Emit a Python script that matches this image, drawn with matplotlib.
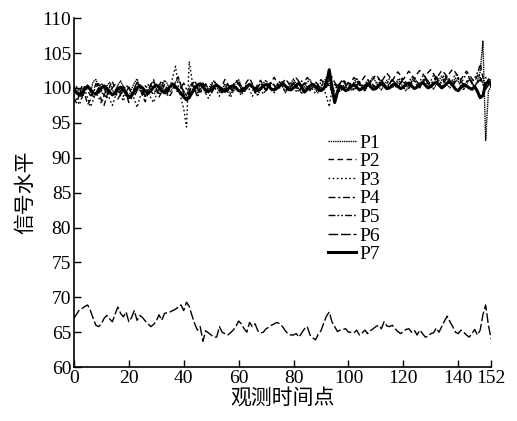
import numpy as np
import matplotlib
matplotlib.use("Agg")
import matplotlib.pyplot as plt

plt.rcParams['font.family'] = ['Liberation Serif', 'Noto Sans CJK SC']

p1 = [99.5, 100.2, 99.1, 98.6, 99.8, 100.5, 99.3, 100.9, 101.2, 100.1, 99.4, 98.9, 100.3, 100.8, 99.7, 99.0, 100.4, 101.0, 100.2, 99.6,
      98.8, 99.9, 100.7, 101.3, 100.0, 99.2, 98.7, 99.6, 100.5, 100.9, 99.8, 99.1, 100.2, 101.1, 100.6, 99.5, 99.9, 100.8, 101.4, 100.3,
      99.6, 98.9, 100.1, 100.7, 99.8, 99.3, 100.4, 100.0, 99.2, 99.7, 100.6, 101.0, 100.2, 99.4, 99.9, 100.5, 99.7, 99.1, 100.0, 100.8,
      101.2, 100.3, 99.5, 99.9, 100.6, 100.1, 99.4, 98.9, 99.8, 100.7, 101.1, 100.4, 99.6, 99.9, 100.5, 100.9, 100.2, 99.3, 99.8, 100.6,
      101.3, 100.5, 99.8, 99.2, 100.1, 100.8, 101.2, 100.4, 99.7, 99.3, 100.2, 100.9, 101.5, 100.6, 99.4, 98.6, 99.8, 100.7, 101.0, 100.3,
      99.6, 100.1, 100.8, 101.4, 100.7, 99.9, 99.5, 100.3, 101.0, 101.6, 100.8, 100.2, 99.7, 100.4, 101.1, 100.6, 100.0, 100.5, 101.2, 100.7,
      100.1, 99.6, 100.3, 101.0, 101.5, 100.8, 100.2, 100.6, 101.3, 100.9, 100.3, 99.8, 100.5, 101.1, 101.7, 100.9, 100.4, 100.0, 100.8, 101.4,
      100.9, 100.2, 99.7, 100.5, 101.2, 100.6, 100.1, 101.0, 102.3, 106.7, 92.5, 99.5, 100.3]
p2 = [98.5, 97.8, 99.2, 100.4, 99.0, 97.6, 98.3, 99.5, 100.6, 99.8, 98.2, 97.5, 98.9, 100.2, 101.0, 99.6, 98.4, 99.1, 100.3, 99.2,
      97.9, 98.6, 99.9, 100.8, 100.1, 98.8, 98.0, 99.3, 100.5, 101.2, 100.0, 98.7, 99.4, 100.6, 99.8, 98.9, 99.6, 100.9, 101.6, 100.4,
      99.1, 98.2, 99.5, 100.6, 99.7, 98.8, 99.9, 100.7, 100.0, 99.3, 100.2, 101.0, 100.5, 99.6, 100.3, 101.2, 100.6, 99.8, 100.4, 101.1,
      100.5, 99.7, 100.2, 100.9, 101.4, 100.6, 99.9, 100.5, 101.1, 100.3, 99.6, 100.4, 101.0, 101.5, 100.7, 100.0, 100.6, 101.3, 100.8, 100.1,
      100.7, 101.4, 100.9, 100.2, 100.8, 101.5, 101.0, 100.3, 99.8, 100.6, 101.2, 100.7, 100.1, 100.9, 101.6, 100.8, 100.2, 100.7, 101.3, 100.6,
      100.0, 100.8, 101.5, 101.0, 100.4, 101.1, 101.7, 101.2, 100.6, 101.3, 101.9, 101.4, 100.8, 101.5, 102.1, 101.6, 101.0, 101.7, 102.3, 101.8,
      101.2, 101.8, 102.4, 101.9, 101.3, 102.0, 102.5, 102.1, 101.5, 102.2, 102.6, 102.0, 101.4, 101.9, 102.5, 102.1, 101.6, 102.2, 102.7, 102.2,
      101.7, 101.2, 101.8, 102.4, 101.9, 101.3, 100.9, 101.8, 103.5, 101.5, 100.2, 101.3, 101.0]
p3 = [99.0, 98.3, 97.6, 98.8, 99.7, 98.5, 97.3, 98.2, 99.4, 98.6, 97.8, 98.9, 99.8, 98.4, 97.5, 98.7, 99.6, 98.9, 98.1, 99.3,
      100.1, 99.2, 98.4, 97.2, 98.6, 99.5, 100.3, 99.4, 98.6, 97.9, 99.0, 99.9, 100.6, 99.5, 98.8, 100.2, 101.5, 103.1, 100.4, 98.5,
      97.0, 94.4, 103.8, 101.2, 99.6, 98.7, 99.5, 100.4, 99.2, 98.5, 99.3, 100.2, 99.6, 98.8, 99.7, 100.5, 99.4, 98.6, 99.5, 100.3,
      99.5, 98.9, 99.8, 100.6, 99.7, 98.8, 99.6, 100.4, 99.9, 99.1, 99.8, 100.7, 100.1, 99.3, 100.0, 100.8, 100.2, 99.4, 100.1, 100.9,
      100.3, 99.5, 100.2, 101.0, 100.4, 99.6, 100.3, 99.8, 99.2, 100.1, 100.8, 99.9, 98.8, 97.3, 99.6, 100.5, 100.0, 99.4, 100.2, 101.0,
      100.4, 99.7, 100.3, 101.1, 100.5, 99.8, 100.4, 101.2, 100.6, 99.9, 100.5, 101.3, 100.7, 100.0, 100.6, 101.4, 100.8, 100.1, 100.7, 101.5,
      100.9, 100.2, 100.8, 101.6, 101.0, 100.3, 100.9, 101.7, 101.1, 100.4, 101.0, 101.8, 101.2, 100.5, 101.1, 101.9, 101.3, 100.6, 101.2, 102.0,
      101.4, 100.7, 101.3, 102.1, 101.5, 100.8, 101.4, 102.2, 101.6, 100.9, 101.5, 100.8, 101.2]
p4 = [99.8, 99.2, 98.7, 99.5, 100.3, 99.6, 98.9, 99.4, 100.1, 100.6, 99.7, 99.0, 98.6, 99.3, 100.0, 100.5, 99.8, 99.1, 99.7, 100.4,
      100.0, 99.3, 98.8, 99.6, 100.2, 99.5, 98.9, 99.7, 100.4, 99.9, 99.2, 99.8, 100.5, 100.1, 99.4, 99.9, 100.6, 100.2, 99.5, 100.0,
      100.7, 99.8, 98.9, 99.6, 100.3, 99.9, 99.3, 99.8, 100.4, 100.0, 99.4, 99.9, 100.5, 100.1, 99.5, 100.0, 100.6, 100.2, 99.6, 100.1,
      100.5, 99.9, 99.4, 100.0, 100.6, 100.2, 99.6, 100.1, 100.7, 100.3, 99.7, 100.2, 100.8, 100.4, 99.8, 100.3, 100.9, 100.4, 99.8, 100.2,
      100.7, 100.1, 99.6, 100.2, 100.8, 100.3, 99.7, 100.3, 100.9, 100.4, 99.8, 100.4, 101.1, 100.2, 99.5, 100.1, 100.7, 100.2, 99.7, 100.3,
      100.8, 100.3, 99.8, 100.4, 100.9, 100.4, 99.9, 100.5, 101.0, 100.5, 100.0, 100.6, 101.1, 100.6, 100.1, 100.7, 101.2, 100.7, 100.2, 100.8,
      101.3, 100.8, 100.3, 100.9, 101.4, 100.9, 100.4, 101.0, 101.5, 101.0, 100.5, 101.1, 101.6, 101.1, 100.6, 101.2, 101.7, 101.1, 100.5, 101.0,
      101.5, 101.0, 100.4, 100.9, 101.4, 100.8, 100.2, 100.7, 101.2, 100.5, 99.8, 100.4, 100.9]
p5 = [100.2, 99.4, 99.9, 98.8, 99.5, 100.4, 99.7, 98.6, 99.3, 100.0, 100.7, 99.9, 99.2, 99.8, 98.9, 99.6, 100.3, 99.5, 98.8, 99.4,
      100.1, 99.3, 100.0, 100.8, 99.7, 99.1, 99.8, 100.5, 99.6, 99.0, 99.7, 100.4, 101.0, 99.9, 99.2, 100.0, 100.7, 99.8, 99.3, 100.1,
      99.5, 98.6, 99.2, 100.4, 101.0, 100.2, 99.4, 100.0, 100.6, 99.7, 99.2, 99.9, 100.6, 100.0, 99.3, 99.8, 100.5, 99.9, 99.4, 100.2,
      100.8, 100.1, 99.5, 99.9, 100.6, 99.8, 99.3, 100.0, 100.7, 100.2, 99.6, 100.1, 100.8, 100.3, 99.7, 100.2, 100.9, 100.0, 99.5, 100.1,
      100.6, 99.9, 99.4, 100.0, 100.7, 100.1, 99.6, 100.2, 100.8, 100.3, 99.5, 99.9, 101.0, 101.8, 99.2, 99.7, 100.4, 99.9, 99.5, 100.2,
      100.7, 100.0, 99.6, 100.3, 100.9, 100.2, 99.7, 100.4, 101.0, 100.3, 99.8, 100.5, 101.1, 100.4, 99.9, 100.6, 101.2, 100.5, 100.0, 100.7,
      101.0, 100.4, 99.9, 100.6, 101.2, 100.5, 100.0, 100.7, 101.3, 100.6, 100.1, 100.8, 101.4, 100.7, 100.2, 100.9, 101.5, 100.8, 100.3, 100.9,
      101.3, 100.6, 100.1, 100.8, 101.4, 100.7, 100.2, 100.9, 101.5, 100.6, 99.9, 100.5, 100.8]
p6 = [67.0, 67.6, 68.2, 68.4, 68.7, 68.9, 68.1, 67.0, 66.0, 65.8, 66.2, 67.0, 67.4, 66.9, 66.5, 67.6, 68.6, 67.7, 67.2, 67.9,
      66.5, 67.1, 68.1, 66.7, 67.4, 67.1, 66.6, 66.2, 65.8, 66.1, 66.6, 67.5, 66.7, 67.7, 67.8, 67.9, 68.1, 68.3, 68.6, 68.9,
      68.1, 69.3, 68.7, 67.4, 66.2, 65.3, 65.8, 63.7, 65.2, 64.9, 64.6, 64.3, 64.3, 65.8, 65.0, 64.8, 64.6, 64.9, 65.3, 65.8,
      66.6, 66.2, 65.5, 65.0, 66.4, 65.8, 66.2, 65.2, 64.9, 65.0, 65.5, 65.7, 66.0, 66.2, 66.4, 66.2, 65.8, 65.2, 64.8, 64.6,
      64.6, 64.8, 64.3, 64.9, 65.5, 65.8, 64.6, 64.2, 63.9, 64.7, 65.2, 66.3, 67.3, 67.9, 66.5, 65.8, 65.1, 65.3, 65.4, 65.5,
      65.0, 65.0, 64.9, 65.3, 64.6, 64.9, 65.3, 64.8, 65.2, 65.5, 65.8, 66.0, 65.5, 66.5, 65.9, 65.8, 66.0, 65.5, 65.1, 64.8,
      65.1, 65.4, 65.5, 65.0, 65.3, 64.6, 65.3, 64.8, 64.3, 64.4, 64.8, 64.9, 65.6, 65.0, 65.8, 66.6, 67.3, 66.5, 65.8, 65.0,
      64.8, 65.3, 65.0, 64.6, 64.3, 64.8, 65.4, 64.6, 65.3, 67.5, 68.9, 66.0, 64.0]
p7 = [99.6, 99.3, 99.0, 99.4, 99.9, 100.2, 99.8, 99.3, 99.1, 99.5, 100.0, 100.3, 99.9, 99.4, 99.0, 99.3, 99.8, 100.1, 99.7, 99.2,
      98.6, 98.9, 99.5, 100.0, 100.3, 100.0, 99.5, 99.2, 99.6, 100.1, 100.4, 100.1, 99.6, 99.3, 99.7, 100.2, 100.5, 100.2, 99.7, 99.2,
      98.7, 98.3, 98.6, 99.3, 99.9, 100.4, 100.6, 100.2, 99.7, 99.5, 99.8, 100.2, 100.4, 100.1, 99.7, 99.5, 99.8, 100.2, 100.3, 100.0,
      99.6, 99.5, 99.8, 100.2, 100.5, 100.2, 99.8, 99.6, 99.9, 100.3, 100.5, 100.2, 99.8, 99.7, 100.0, 100.3, 100.6, 100.3, 99.9, 99.7,
      100.0, 100.4, 100.7, 100.1, 99.4, 99.8, 100.3, 100.5, 100.2, 99.8, 99.6, 99.9, 100.6, 102.6, 100.2, 97.9, 99.4, 100.3, 100.0, 99.6,
      99.8, 100.2, 100.5, 100.1, 99.7, 99.9, 100.3, 100.6, 100.2, 99.8, 99.9, 100.3, 100.6, 100.3, 99.9, 100.0, 100.4, 100.6, 100.2, 99.9,
      100.1, 100.5, 100.7, 100.3, 99.9, 100.1, 100.5, 100.8, 100.4, 100.0, 100.2, 100.6, 100.8, 100.4, 100.0, 100.3, 100.7, 100.9, 100.4, 99.8,
      99.6, 100.1, 100.5, 100.3, 100.0, 99.8, 100.2, 99.5, 98.6, 98.9, 100.6, 100.9, 100.4]

labels = ['P1', 'P2', 'P3', 'P4', 'P5', 'P6', 'P7']
series = [p1, p2, p3, p4, p5, p6, p7]
styles = [
    dict(linestyle=(0, (1, 0.6)), lw=1.0),
    dict(linestyle=(0, (4, 2.5)), lw=1.0),
    dict(linestyle=(0, (1.2, 1.8)), lw=1.0),
    dict(linestyle=(0, (5, 2, 1.5, 2)), lw=1.0),
    dict(linestyle=(0, (5, 1.5, 1.2, 1.5, 1.2, 1.5)), lw=1.0),
    dict(linestyle=(0, (7, 2)), lw=1.0),
    dict(linestyle='-', lw=2.2),
]

xticks = [0, 20, 40, 60, 80, 100, 120, 140, 152]
yticks = list(range(60, 111, 5))

fig = plt.figure(figsize=(5.17, 4.21), dpi=100)
ax = fig.add_axes([0.143, 0.128, 0.807, 0.829])

for lab, vals, st in zip(labels, series, styles):
    ax.plot(np.arange(len(vals)), vals, color='black', label=lab, **st)

ax.set_xlim(0, 152)
ax.set_ylim(60, 110)
ax.set_xticks(xticks)
ax.set_yticks(yticks)
ax.tick_params(direction='in', length=5, width=1, labelsize=14, pad=2)
for s in ['top', 'right']:
    ax.spines[s].set_visible(False)
for s in ['left', 'bottom']:
    ax.spines[s].set_linewidth(1.2)

ax.set_xlabel('观测时间点', fontsize=15, family=['Noto Sans CJK SC'], labelpad=0)
ax.set_ylabel('信号水平', fontsize=15, family=['Noto Sans CJK SC'], labelpad=4)

ax.legend(loc='upper left', bbox_to_anchor=(0.61, 0.668), frameon=False,
          fontsize=14, handlelength=1.4, handletextpad=0.2, labelspacing=0.05,
          borderpad=0, borderaxespad=0)

fig.savefig('out.png', dpi=100)
